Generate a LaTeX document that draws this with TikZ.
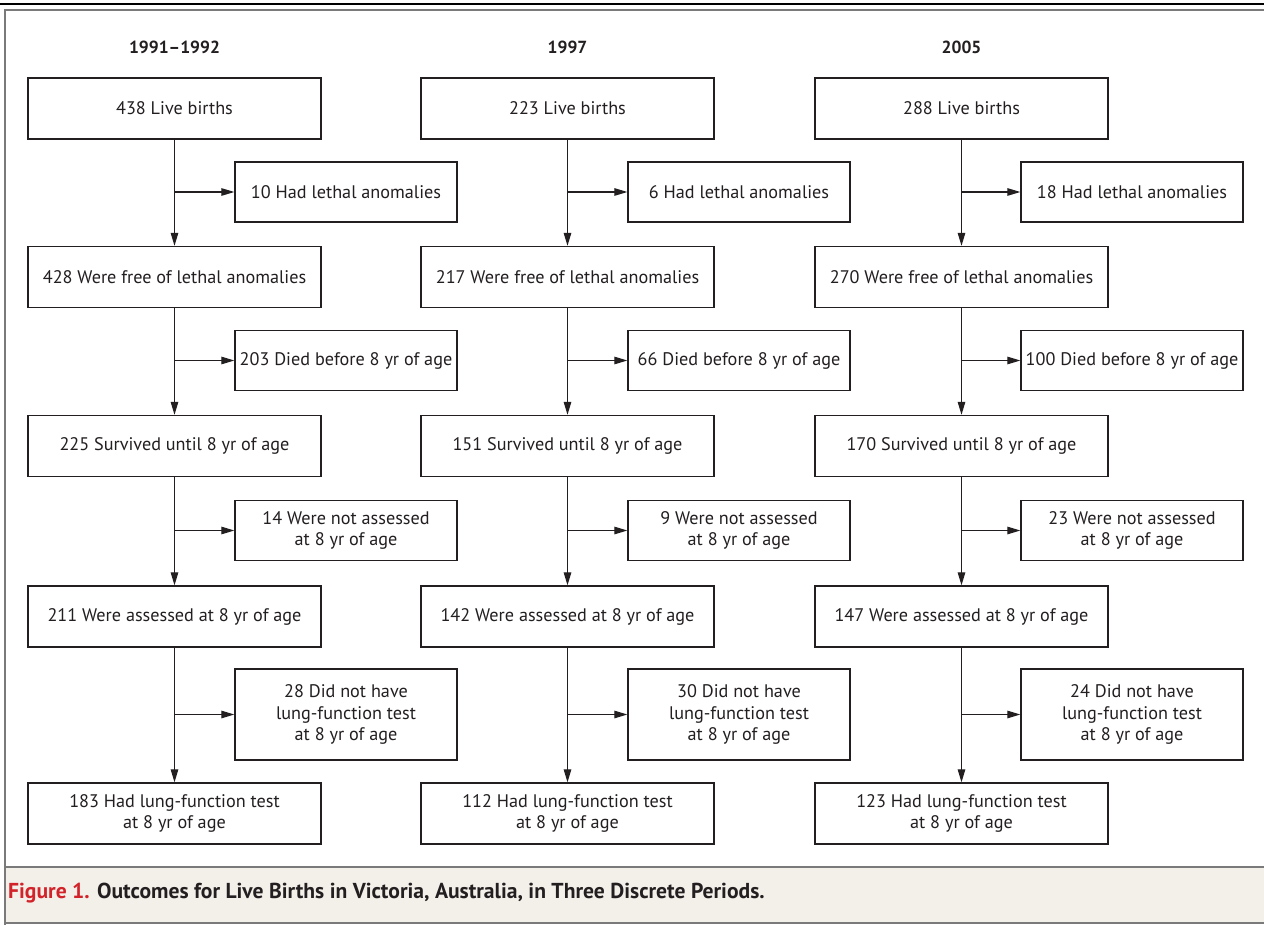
\documentclass[tikz,border=0pt]{standalone}
\usepackage{fontspec}
\setmainfont{PT Sans}
\usetikzlibrary{arrows.meta}
\definecolor{capbg}{HTML}{F3F0EA}
\definecolor{framegray}{HTML}{7A7A7A}
\definecolor{nejmred}{HTML}{D2232A}
\definecolor{txt}{HTML}{231F20}
\begin{document}
\begin{tikzpicture}[x=1pt,y=-1pt,
  txtfont/.style={font=\fontsize{18.2}{21.7}\selectfont, text=txt},
  mainbox/.style={draw=txt, line width=1.3pt, fill=white, minimum width=293pt, minimum height=61pt, align=center, inner sep=0pt, txtfont},
  sidebox/.style={draw=txt, line width=1.3pt, fill=white, minimum width=222pt, minimum height=60pt, align=center, inner sep=0pt, txtfont},
  head/.style={font=\bfseries\fontsize{17.5}{21}\selectfont, text=txt},
  arr/.style={draw=txt, line width=1.2pt, -{Triangle[length=13pt,width=7.5pt]}}
]
\useasboundingbox (0,0) rectangle (1264,925);
% frame and caption
\fill[capbg] (5,867) rectangle (1264,923);
\draw[framegray, line width=2pt] (5,925) -- (5,10) -- (1264,10);
\draw[framegray, line width=2pt] (5,867) -- (1264,867);
\draw[framegray, line width=1.2pt] (5,923) -- (1264,923);
\draw[black, line width=1.5pt] (0,4) -- (1264,4);
\node[anchor=west, font=\bfseries\fontsize{21.6}{24}\selectfont, inner sep=0pt] (cap) at (8,893) {\textcolor{nejmred}{Figure 1.} \textcolor{txt}{Outcomes for Live Births in Victoria, Australia, in Three Discrete Periods.}};

% column 1
\node[head] (h1) at (174.5,47) {1991–1992};
\node[mainbox] (a1) at (174.5,108.5) {438 Live births};
\node[sidebox] (a1s) at (346,192) {10 Had lethal anomalies};
\node[mainbox] (a2) at (174.5,277) {428 Were free of lethal anomalies};
\node[sidebox] (a2s) at (346,360.5) {203 Died before 8 yr of age};
\node[mainbox] (a3) at (174.5,446) {225 Survived until 8 yr of age};
\node[sidebox] (a3s) at (346,530.5) {14 Were not assessed\\at 8 yr of age};
\node[mainbox] (a4) at (174.5,616.5) {211 Were assessed at 8 yr of age};
\node[sidebox, minimum height=91pt] (a4s) at (346,714.5) {28 Did not have\\lung-function test\\at 8 yr of age};
\node[mainbox] (a5) at (174.5,813.5) {183 Had lung-function test\\at 8 yr of age};

% column 2
\node[head] (h2) at (567.5,47) {1997};
\node[mainbox] (b1) at (567.5,108.5) {223 Live births};
\node[sidebox] (b1s) at (739,192) {6 Had lethal anomalies};
\node[mainbox] (b2) at (567.5,277) {217 Were free of lethal anomalies};
\node[sidebox] (b2s) at (739,360.5) {66 Died before 8 yr of age};
\node[mainbox] (b3) at (567.5,446) {151 Survived until 8 yr of age};
\node[sidebox] (b3s) at (739,530.5) {9 Were not assessed\\at 8 yr of age};
\node[mainbox] (b4) at (567.5,616.5) {142 Were assessed at 8 yr of age};
\node[sidebox, minimum height=91pt] (b4s) at (739,714.5) {30 Did not have\\lung-function test\\at 8 yr of age};
\node[mainbox] (b5) at (567.5,813.5) {112 Had lung-function test\\at 8 yr of age};

% column 3
\node[head] (h3) at (961.5,47) {2005};
\node[mainbox] (c1) at (961.5,108.5) {288 Live births};
\node[sidebox] (c1s) at (1132,192) {18 Had lethal anomalies};
\node[mainbox] (c2) at (961.5,277) {270 Were free of lethal anomalies};
\node[sidebox] (c2s) at (1132,360.5) {100 Died before 8 yr of age};
\node[mainbox] (c3) at (961.5,446) {170 Survived until 8 yr of age};
\node[sidebox] (c3s) at (1132,530.5) {23 Were not assessed\\at 8 yr of age};
\node[mainbox] (c4) at (961.5,616.5) {147 Were assessed at 8 yr of age};
\node[sidebox, minimum height=91pt] (c4s) at (1132,714.5) {24 Did not have\\lung-function test\\at 8 yr of age};
\node[mainbox] (c5) at (961.5,813.5) {123 Had lung-function test\\at 8 yr of age};

% connectors
\foreach \c in {a,b,c}{
  \foreach \i/\j in {1/2,2/3,3/4,4/5}{
    \draw[arr] (\c\i.south) -- (\c\j.north);
    \draw[arr] (\c\i.south |- \c\i s.west) -- (\c\i s.west);
  }
}
\end{tikzpicture}
\end{document}
